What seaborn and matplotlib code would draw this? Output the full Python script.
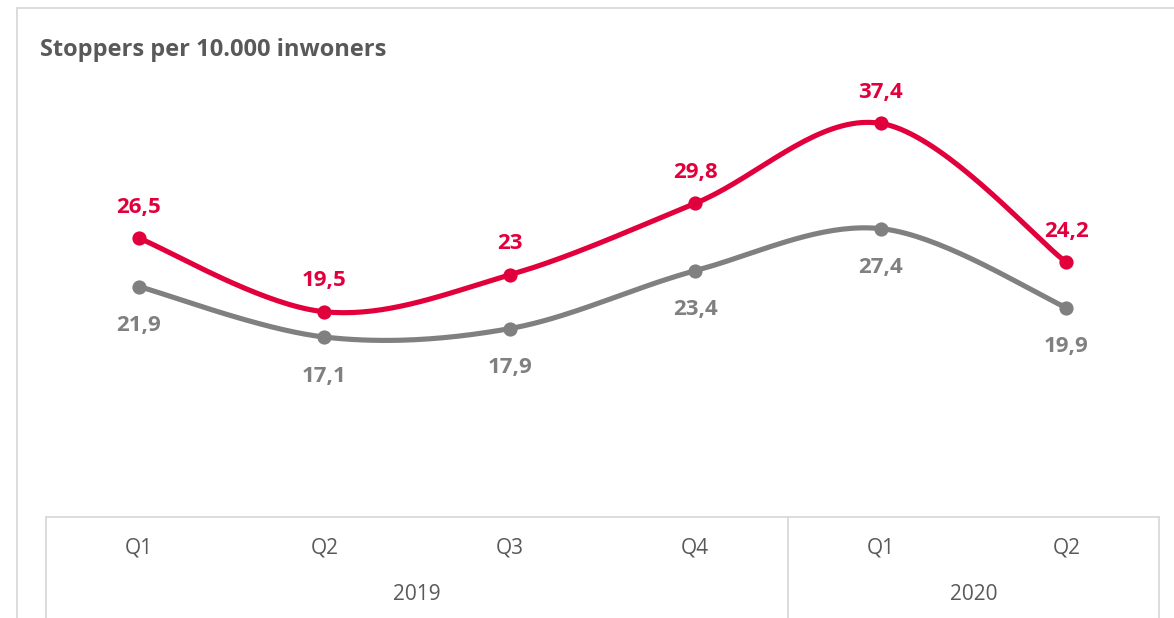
import numpy as np
import pandas as pd
import matplotlib
matplotlib.use("Agg")
import matplotlib.pyplot as plt
import matplotlib.transforms as mtrans
from matplotlib.lines import Line2D
import seaborn as sns

# ---- data ----
quarters = ["Q1", "Q2", "Q3", "Q4", "Q1", "Q2"]
years = ["2019", "2020"]
year_spans = [(0, 3), (4, 5)]          # index ranges of quarters per year
red_values = [26.5, 19.5, 23.0, 29.8, 37.4, 24.2]
gray_values = [21.9, 17.1, 17.9, 23.4, 27.4, 19.9]
red_labels = ["26,5", "19,5", "23", "29,8", "37,4", "24,2"]
gray_labels = ["21,9", "17,1", "17,9", "23,4", "27,4", "19,9"]
title = "Stoppers per 10.000 inwoners"

RED = "#E2003C"
GRAY = "#808080"
TXT = "#595959"
FRAME = "#D9D9D9"

sns.set_theme(style="white")
plt.rcParams["font.family"] = ["Open Sans", "DejaVu Sans"]


def smooth(xs, ys, n=40):
    """Excel-style smoothing: cubic Bezier with Catmull-Rom control points."""
    xs = np.asarray(xs, float)
    ys = np.asarray(ys, float)
    P = np.column_stack([xs, ys])
    m = len(P)
    out = []
    t = np.linspace(0, 1, n)
    for i in range(m - 1):
        p0 = P[i - 1] if i > 0 else P[i]
        p1 = P[i]
        p2 = P[i + 1]
        p3 = P[i + 2] if i + 2 < m else P[i + 1]
        c1 = p1 + (p2 - p0) / 6.0
        c2 = p2 - (p3 - p1) / 6.0
        seg = ((1 - t) ** 3)[:, None] * p1 + (3 * (1 - t) ** 2 * t)[:, None] * c1 \
            + (3 * (1 - t) * t ** 2)[:, None] * c2 + (t ** 3)[:, None] * p2
        out.append(seg if i == 0 else seg[1:])
    arr = np.vstack(out)
    return arr[:, 0], arr[:, 1]


x = np.arange(len(quarters))

fig = plt.figure(figsize=(11.74, 6.18), dpi=100)
ax = fig.add_axes([46 / 1174, 1 - 517 / 618, (1159 - 46) / 1174, (517 - 96) / 618])

for vals, col in [(gray_values, GRAY), (red_values, RED)]:
    sx, sy = smooth(x, vals)
    df = pd.DataFrame({"x": sx, "y": sy})
    sns.lineplot(data=df, x="x", y="y", ax=ax, color=col, linewidth=3.7,
                 sort=False, estimator=None)
    pts = pd.DataFrame({"x": x, "y": vals})
    sns.scatterplot(data=pts, x="x", y="y", ax=ax, color=col, s=105,
                    edgecolor=col, linewidth=0, zorder=5)

for i in range(len(x)):
    ax.annotate(red_labels[i], (x[i], red_values[i]), xytext=(0, 31),
                textcoords="offset pixels", ha="center", va="center",
                color=RED, fontsize=16, fontweight="bold")
    ax.annotate(gray_labels[i], (x[i], gray_values[i]), xytext=(0, -39),
                textcoords="offset pixels", ha="center", va="center",
                color=GRAY, fontsize=16, fontweight="bold")

ax.set_xlim(-0.5, len(x) - 0.5)
ax.set_ylim(0, 40)
ax.set_xlabel("")
ax.set_ylabel("")
ax.set_xticks([])
ax.set_yticks([])
for s in ["left", "right", "top"]:
    ax.spines[s].set_visible(False)
ax.spines["bottom"].set_color(FRAME)
ax.spines["bottom"].set_linewidth(1.3)

# multi-level category axis
blend = mtrans.blended_transform_factory(ax.transData, ax.transAxes)
for i, q in enumerate(quarters):
    ax.annotate(q, (x[i], 0), xycoords=("data", "axes fraction"),
                xytext=(0, -31), textcoords="offset pixels",
                ha="center", va="center", color=TXT, fontsize=15)
for (a, b), yr in zip(year_spans, years):
    ax.annotate(yr, ((a + b) / 2, 0), xycoords=("data", "axes fraction"),
                xytext=(0, -78), textcoords="offset pixels",
                ha="center", va="center", color=TXT, fontsize=15)
bounds = [-0.5] + [b + 0.5 for (a, b) in year_spans]
for bx in bounds:
    ax.plot([bx, bx], [0, -0.4], transform=blend, color=FRAME, lw=1.3,
            clip_on=False)

# title
fig.text(40 / 1174, 1 - 50 / 618, title, ha="left", va="center",
         color=TXT, fontsize=17, fontweight="bold")

# outer chart frame
fig.add_artist(Line2D([17 / 1174, 17 / 1174], [0, 1 - 8 / 618], color=FRAME, lw=1.3))
fig.add_artist(Line2D([17 / 1174, 1], [1 - 8 / 618, 1 - 8 / 618], color=FRAME, lw=1.3))

fig.savefig("out.png", dpi=100, facecolor="white")
